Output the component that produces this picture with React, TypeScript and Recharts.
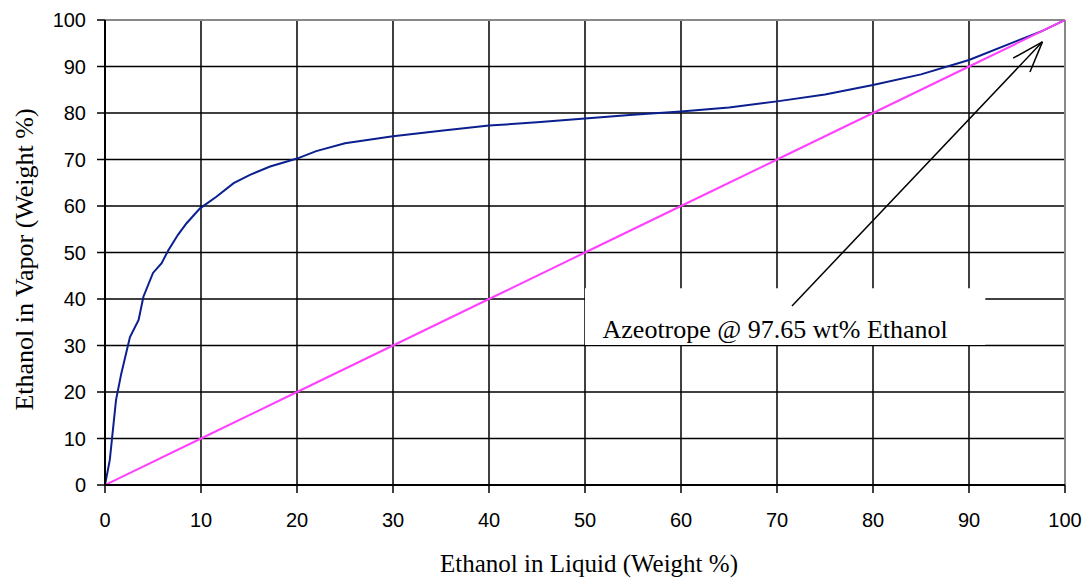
import React from 'react';
import { LineChart, Line, XAxis, YAxis, CartesianGrid, ReferenceLine, ReferenceArea } from 'recharts';

const liquidPct = [0, 0.5, 1.15, 1.7, 2.6, 3.5, 4, 5, 5.9, 6.6, 7.6, 8.5, 9.9, 11.6, 13.4, 15.1, 17.2, 20, 22, 25, 30, 35, 40, 45, 50, 55, 60, 65, 70, 75, 80, 85, 90, 95, 97.65, 100];
const vaporPct = [0, 5.4, 18.3, 24, 31.8, 35.5, 40.5, 45.6, 47.7, 50.5, 53.8, 56.3, 59.5, 62, 64.9, 66.7, 68.5, 70.2, 71.8, 73.5, 75, 76.2, 77.3, 78, 78.8, 79.6, 80.3, 81.2, 82.5, 84, 86, 88.3, 91.4, 95.5, 97.65, 100];
const diagonalX = [0, 10, 20, 30, 40, 50, 60, 70, 80, 90, 100];
const diagonalY = [0, 10, 20, 30, 40, 50, 60, 70, 80, 90, 100];
const axisTicks = [0, 10, 20, 30, 40, 50, 60, 70, 80, 90, 100];
const annotationText = 'Azeotrope @ 97.65 wt% Ethanol';

const vleData = liquidPct.map((x, i) => ({ x, y: vaporPct[i] }));
const diagData = diagonalX.map((x, i) => ({ x, d: diagonalY[i] }));

const tickStyle = { fontFamily: '"Liberation Sans", Arial, sans-serif', fontSize: 20, fill: '#000' };
const serif = '"Liberation Serif", "Times New Roman", serif';

export default function App() {
  return (
    <LineChart width={1083} height={573} margin={{ top: 12, right: 26, bottom: 0, left: 0 }}>
      <CartesianGrid stroke="#000" strokeWidth={1.5} horizontalValues={axisTicks} verticalValues={axisTicks} />
      <XAxis
        type="number"
        dataKey="x"
        domain={[0, 100]}
        ticks={axisTicks}
        interval={0}
        allowDataOverflow
        height={96}
        tickSize={8}
        tickMargin={20}
        tick={tickStyle}
        stroke="#000"
        axisLine={{ stroke: '#000', strokeWidth: 2 }}
        tickLine={{ stroke: '#000', strokeWidth: 1.5 }}
        label={{ value: 'Ethanol in Liquid (Weight %)', position: 'insideBottom', offset: 9, dx: 4, style: { fontFamily: serif, fontSize: 25, fill: '#000' } }}
      />
      <YAxis
        type="number"
        domain={[0, 100]}
        ticks={axisTicks}
        interval={0}
        allowDataOverflow
        width={97}
        tickSize={8}
        tickMargin={11}
        tick={tickStyle}
        stroke="#000"
        axisLine={{ stroke: '#000', strokeWidth: 2 }}
        tickLine={{ stroke: '#000', strokeWidth: 1.5 }}
        label={{ value: 'Ethanol in Vapor (Weight %)', angle: -90, position: 'insideLeft', offset: 16, dy: 7, style: { fontFamily: serif, fontSize: 26, fill: '#000', textAnchor: 'middle' } }}
      />
      <ReferenceLine y={100} stroke="#888" strokeWidth={2} />
      <ReferenceLine x={100} stroke="#888" strokeWidth={2} />
      <ReferenceArea x1={50} x2={91.7} y1={30.1} y2={42.3} fill="#fff" fillOpacity={1} stroke="none"
        label={{ value: annotationText, position: 'center', dy: 12, dx: -10, style: { fontFamily: serif, fontSize: 26, fill: '#000' } }} />
      <ReferenceLine segment={[{ x: 71.56, y: 38.5 }, { x: 97.65, y: 95.3 }]} stroke="#000" strokeWidth={1.5} />
      <ReferenceLine segment={[{ x: 94.6, y: 91.8 }, { x: 97.65, y: 95.3 }]} stroke="#000" strokeWidth={1.5} />
      <ReferenceLine segment={[{ x: 96.35, y: 88.8 }, { x: 97.65, y: 95.3 }]} stroke="#000" strokeWidth={1.5} />
      <Line data={vleData} dataKey="y" type="linear" stroke="#0b1f8f" strokeWidth={2} dot={false} isAnimationActive={false} />
      <Line data={diagData} dataKey="d" type="linear" stroke="#ff40ff" strokeWidth={2} dot={false} isAnimationActive={false} />
    </LineChart>
  );
}
